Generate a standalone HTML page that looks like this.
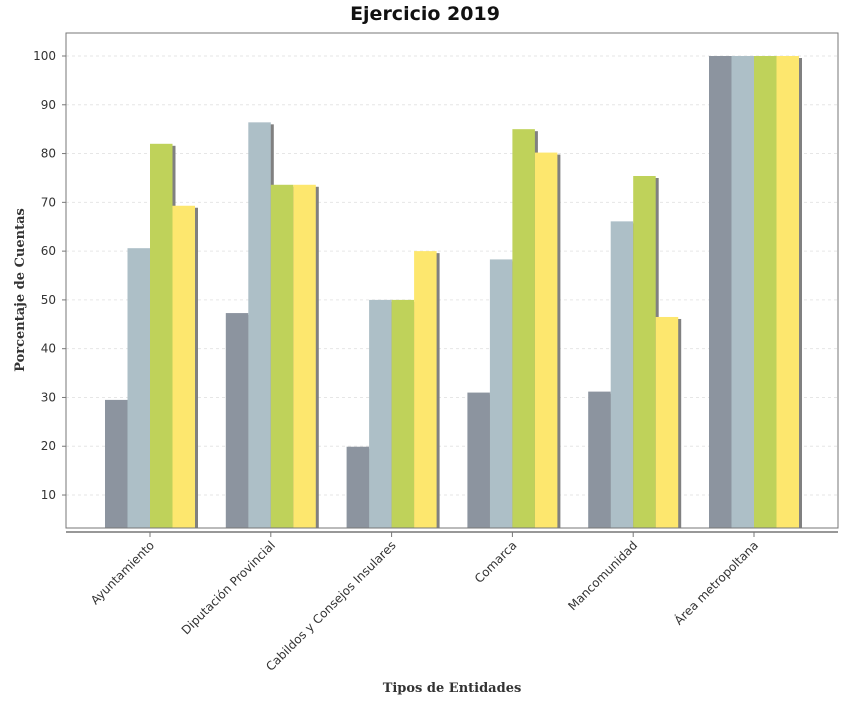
<!DOCTYPE html>
<html><head><meta charset="utf-8"><style>
body{margin:0;background:#fff;font-family:"DejaVu Sans","Liberation Sans",sans-serif}
</style></head><body>
<svg id="chart" width="850" height="700" xmlns="http://www.w3.org/2000/svg">
<text x="425" y="20" text-anchor="middle" font-size="19" font-weight="bold" fill="#111">Ejercicio 2019</text>
<g id="grid"></g><g id="bars"></g><g id="axes"></g>
<text transform="translate(24,290) rotate(-90)" text-anchor="middle" font-family="DejaVu Serif,serif" font-size="13" font-weight="bold" fill="#333">Porcentaje de Cuentas</text>
<text x="452" y="692" text-anchor="middle" font-family="DejaVu Serif,serif" font-size="13" font-weight="bold" fill="#333">Tipos de Entidades</text>
</svg>
<script>
const categories=["Ayuntamiento","Diputación Provincial","Cabildos y Consejos Insulares","Comarca","Mancomunidad","Área metropoltana"];
const series1=[29.5,47.3,19.9,31,31.2,100];
const series2=[60.6,86.4,50,58.3,66.1,100];
const series3=[82,73.6,50,85,75.4,100];
const series4=[69.3,73.6,60,80.2,46.5,100];
const yTicks=[10,20,30,40,50,60,70,80,90,100];
const allSeries=[series1,series2,series3,series4];
const colors=["#8c949f","#adbfc7","#bfd25a","#fde76e"];
const NS="http://www.w3.org/2000/svg";
const L=66,R=838,T=33,B=528;
const yS=v=>543.8-v*4.878;
const xC=i=>150+i*120.8;
function mk(p,t,a){const e=document.createElementNS(NS,t);for(const k in a)e.setAttribute(k,a[k]);document.getElementById(p).appendChild(e);return e;}
yTicks.forEach(t=>{
 const g=mk("grid","line",{x1:L,x2:R,y1:yS(t),y2:yS(t),stroke:"#e6e6e6","stroke-dasharray":"3,3"});
 
 
 const l=mk("axes","text",{x:L-10,y:yS(t)+4,"text-anchor":"end","font-size":"12",fill:"#333"});
 l.textContent=t;
 
 
 mk("axes","line",{x1:L-4,x2:L,y1:yS(t),y2:yS(t),stroke:"#777"});
});
const bw=22.5;
categories.forEach((c,i)=>{
 allSeries.forEach((s,j)=>{
  const x=xC(i)-45+j*bw,y=yS(s[i]);
  const sh=mk("bars","rect",{x:x+3,y:y+2,width:bw,height:B-y-2,fill:"#808080"});
  
  
  const r=mk("bars","rect",{x:x,y:y,width:bw,height:B-y,fill:colors[j]});
  
  
 });
 mk("axes","line",{x1:xC(i),x2:xC(i),y1:532,y2:537,stroke:"#777"});
 const t=mk("axes","text",{transform:`translate(${xC(i)+5},546) rotate(-45)`,"text-anchor":"end","font-size":"12",fill:"#333"});
 t.textContent=c;
 
 
});
const f=mk("axes","rect",{x:L,y:T,width:R-L,height:B-T,fill:"none",stroke:"#777"});


const xa=mk("axes","line",{x1:L,x2:R,y1:532,y2:532,stroke:"#777","stroke-width":"1.5"});


</script>
</body></html>
